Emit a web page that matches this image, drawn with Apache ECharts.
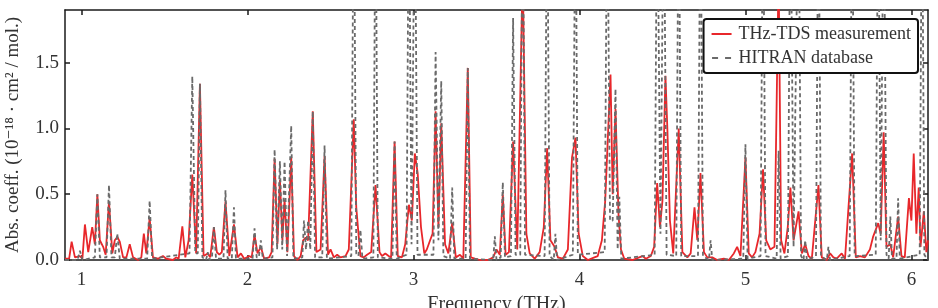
<!DOCTYPE html>
<html>
<head>
<meta charset="utf-8">
<script src="https://cdn.jsdelivr.net/npm/echarts@6/dist/echarts.min.js"></script>
<style>
  html, body { margin: 0; padding: 0; background: #fff; }
  #chart { width: 938px; height: 308px; }
</style>
</head>
<body>
<div id="chart"></div>
<script>
// THz-TDS measurement: [frequency (THz), abs. coeff.]
const measurement = [
  [0.90,0.01],[0.925,0.01],[0.94,0.14],[0.96,0.02],[0.99,0.03],[1.005,0.01],
  [1.02,0.27],[1.04,0.06],[1.064,0.25],[1.08,0.12],[1.095,0.50],[1.11,0.15],
  [1.13,0.10],[1.145,0.04],[1.165,0.445],[1.185,0.05],[1.20,0.15],[1.215,0.175],
  [1.23,0.14],[1.25,0.02],[1.27,0.02],[1.29,0.12],[1.31,0.02],[1.34,0.0],
  [1.36,0.02],[1.375,0.20],[1.39,0.05],[1.41,0.32],[1.43,0.02],[1.46,0.01],
  [1.49,0.03],[1.51,0.01],[1.55,0.0],[1.57,0.02],[1.585,0.01],[1.607,0.255],
  [1.625,0.02],[1.645,0.15],[1.667,0.65],[1.69,0.05],[1.713,1.34],[1.735,0.03],
  [1.76,0.05],[1.775,0.02],[1.797,0.25],[1.815,0.06],[1.83,0.04],[1.845,0.06],
  [1.867,0.445],[1.89,0.03],[1.918,0.27],[1.94,0.02],[1.96,0.05],[1.98,0.01],
  [2.01,0.03],[2.025,0.02],[2.042,0.19],[2.06,0.05],[2.08,0.10],[2.10,0.01],
  [2.13,0.02],[2.145,0.06],[2.163,0.77],[2.18,0.12],[2.195,0.61],[2.21,0.15],
  [2.223,0.46],[2.24,0.06],[2.263,0.78],[2.28,0.03],[2.30,0.0],[2.32,0.03],
  [2.335,0.15],[2.35,0.17],[2.365,0.15],[2.393,1.13],[2.415,0.06],[2.44,0.08],
  [2.464,0.79],[2.485,0.04],[2.50,0.08],[2.52,0.02],[2.54,0.04],[2.56,0.02],
  [2.59,0.03],[2.61,0.08],[2.64,1.07],[2.655,0.40],[2.665,0.25],[2.68,0.03],
  [2.70,0.02],[2.72,0.04],[2.745,0.06],[2.771,0.57],[2.795,0.06],[2.81,0.03],
  [2.83,0.05],[2.85,0.03],[2.865,0.02],[2.886,0.90],[2.905,0.03],[2.93,0.02],
  [2.95,0.12],[2.972,0.42],[2.99,0.30],[3.008,0.81],[3.025,0.66],[3.045,0.25],
  [3.065,0.05],[3.08,0.08],[3.10,0.15],[3.115,0.20],[3.133,1.13],[3.15,0.25],
  [3.167,1.04],[3.19,0.12],[3.21,0.05],[3.233,0.28],[3.255,0.02],[3.28,0.04],
  [3.30,0.01],[3.327,1.46],[3.345,0.02],[3.37,0.01],[3.40,0.0],[3.45,0.0],
  [3.48,0.02],[3.50,0.08],[3.52,0.04],[3.538,0.50],[3.555,0.04],[3.575,0.06],
  [3.60,0.90],[3.625,0.08],[3.658,2.20],[3.68,0.20],[3.70,0.05],[3.73,0.01],
  [3.76,0.06],[3.785,0.25],[3.805,0.85],[3.825,0.15],[3.85,0.10],[3.87,0.02],
  [3.90,0.01],[3.93,0.08],[3.955,0.78],[3.976,0.93],[3.995,0.20],[4.02,0.03],
  [4.05,0.0],[4.09,0.02],[4.11,0.03],[4.135,0.15],[4.155,0.45],[4.187,1.41],
  [4.20,0.50],[4.217,1.15],[4.235,0.35],[4.25,0.08],[4.27,0.01],[4.32,0.0],
  [4.36,0.02],[4.38,0.03],[4.40,0.01],[4.43,0.03],[4.45,0.10],[4.468,0.585],
  [4.485,0.25],[4.50,0.45],[4.518,1.40],[4.53,0.98],[4.545,0.30],[4.565,0.05],
  [4.598,1.00],[4.62,0.06],[4.65,0.02],[4.67,0.05],[4.693,0.40],[4.71,0.15],
  [4.729,0.66],[4.75,0.06],[4.77,0.02],[4.80,0.02],[4.83,0.0],[4.87,0.01],
  [4.90,0.0],[4.93,0.05],[4.95,0.10],[4.97,0.03],[5.00,0.78],[5.02,0.05],
  [5.04,0.02],[5.06,0.06],[5.085,0.20],[5.106,0.69],[5.125,0.15],[5.15,0.08],
  [5.175,0.10],[5.20,2.20],[5.215,0.15],[5.235,0.05],[5.255,0.25],[5.271,0.55],
  [5.29,0.15],[5.32,0.37],[5.34,0.05],[5.36,0.12],[5.38,0.03],[5.40,0.01],
  [5.44,0.57],[5.46,0.02],[5.49,0.0],[5.51,0.05],[5.53,0.02],[5.55,0.01],
  [5.58,0.05],[5.60,0.01],[5.643,0.81],[5.665,0.02],[5.69,0.03],[5.72,0.02],
  [5.75,0.08],[5.77,0.18],[5.80,0.28],[5.815,0.20],[5.833,0.97],[5.85,0.10],
  [5.873,0.12],[5.89,0.02],[5.92,0.33],[5.94,0.03],[5.96,0.02],[5.985,0.47],
  [6.00,0.30],[6.014,0.81],[6.03,0.20],[6.044,0.55],[6.055,0.10],[6.075,0.37],
  [6.09,0.06],[6.10,0.15]
];

// HITRAN database lines: [frequency (THz), abs. coeff.]
const hitran = [
  [0.90,0.0],
  [0.975,0.0],[0.99,0.07],[1.005,0.0],
  [1.08,0.02],[1.095,0.50],[1.11,0.02],
  [1.15,0.02],[1.165,0.57],[1.18,0.02],
  [1.20,0.02],[1.215,0.20],[1.23,0.01],
  [1.395,0.01],[1.41,0.45],[1.425,0.01],
  [1.65,0.05],[1.667,1.395],[1.685,0.05],
  [1.70,0.05],[1.713,1.34],[1.728,0.02],
  [1.75,0.0],[1.76,0.06],[1.77,0.0],
  [1.785,0.01],[1.797,0.25],[1.81,0.01],
  [1.855,0.01],[1.867,0.53],[1.88,0.01],
  [1.905,0.01],[1.918,0.40],[1.93,0.01],
  [2.03,0.01],[2.042,0.24],[2.055,0.02],
  [2.068,0.02],[2.08,0.15],[2.092,0.01],
  [2.15,0.02],[2.163,0.84],[2.178,0.08],
  [2.195,0.75],[2.209,0.08],
  [2.223,0.75],[2.238,0.03],
  [2.25,0.03],[2.263,1.02],[2.276,0.01],
  [2.33,0.02],[2.34,0.30],[2.352,0.08],
  [2.365,0.30],[2.378,0.08],
  [2.393,1.13],[2.407,0.02],
  [2.45,0.02],[2.464,0.87],[2.478,0.01],
  [2.625,0.03],[2.64,3.0],[2.655,0.05],
  [2.668,0.03],[2.68,0.23],[2.692,0.01],
  [2.758,0.02],[2.771,3.0],[2.785,0.02],
  [2.873,0.01],[2.886,0.90],[2.899,0.01],
  [2.958,0.04],[2.972,3.0],[2.988,0.12],
  [3.008,3.0],[3.024,0.04],
  [3.12,0.04],[3.133,1.58],[3.15,0.15],
  [3.167,1.36],[3.18,0.03],
  [3.22,0.01],[3.233,0.55],[3.246,0.01],
  [3.314,0.01],[3.327,1.46],[3.34,0.01],
  [3.48,0.0],[3.49,0.18],[3.50,0.0],
  [3.525,0.02],[3.538,0.59],[3.551,0.02],
  [3.587,0.03],[3.60,1.84],[3.615,0.04],
  [3.643,0.04],[3.658,3.0],[3.672,0.04],
  [3.79,0.03],[3.805,3.0],[3.82,0.03],
  [3.845,0.0],[3.855,0.20],[3.865,0.0],
  [3.96,0.04],[3.976,3.0],[3.99,0.04],
  [4.152,0.06],[4.167,3.0],[4.184,0.30],[4.20,0.30],[4.217,1.30],[4.23,0.08],
  [4.24,0.48],[4.252,0.01],
  [4.453,0.04],[4.468,3.0],[4.488,0.20],[4.508,3.0],[4.525,0.04],
  [4.583,0.03],[4.598,3.0],[4.613,0.03],
  [4.714,0.03],[4.729,3.0],[4.744,0.03],
  [4.78,0.0],[4.79,0.15],[4.80,0.0],
  [4.987,0.01],[5.00,0.88],[5.013,0.01],
  [5.091,0.03],[5.106,3.0],[5.121,0.03],
  [5.188,0.01],[5.20,0.83],[5.212,0.01],
  [5.256,0.03],[5.271,3.0],[5.29,0.10],[5.32,3.0],[5.335,0.03],
  [5.35,0.0],[5.36,0.15],[5.37,0.0],
  [5.425,0.03],[5.44,3.0],[5.455,0.03],
  [5.49,0.0],[5.50,0.10],[5.51,0.0],
  [5.628,0.03],[5.643,3.0],[5.658,0.03],
  [5.785,0.04],[5.80,3.0],[5.815,0.15],[5.833,3.0],[5.85,0.04],
  [5.863,0.01],[5.873,0.33],[5.883,0.01],
  [5.91,0.01],[5.92,0.47],[5.93,0.01],
  [6.05,0.04],[6.064,3.0],[6.078,0.04],
  [6.10,0.0]
];

const xTicks = [1, 2, 3, 4, 5, 6];
const yTicks = [0, 0.5, 1.0, 1.5];

const font = '"Liberation Serif", "DejaVu Serif", serif';
const frame = { color: '#1a1a1a', width: 1.5 };
const red = '#e8272b';
const gray = '#6a6a6a';

const chart = echarts.init(document.getElementById('chart'));

const option = {
  animation: false,
  backgroundColor: '#fff',
  grid: { left: 65, right: 10, top: 10, bottom: 48, outerBoundsMode: 'none' },
  legend: {
    data: [
      { name: 'THz-TDS measurement', icon: 'path://M0,0H20V2H0Z' },
      { name: 'HITRAN database', icon: 'path://M0,0H6V2H0ZM13,0H19V2H13Z' }
    ],
    orient: 'vertical',
    right: 20,
    top: 19,
    itemWidth: 20,
    itemHeight: 2,
    itemGap: 6,
    padding: [6, 7, 6, 8],
    borderColor: '#111',
    borderWidth: 2,
    borderRadius: 3,
    backgroundColor: '#fff',
    textStyle: { fontFamily: font, fontSize: 18, color: '#333', padding: [0, 0, 0, 2] }
  },
  xAxis: [
    {
      type: 'value', min: 0.9, max: 6.1, position: 'bottom',
      name: 'Frequency (THz)', nameLocation: 'middle', nameGap: 34,
      nameTextStyle: { fontFamily: font, fontSize: 20, color: '#333' },
      axisLine: { show: true, onZero: false, lineStyle: frame },
      axisTick: { show: true, inside: true, length: 5, customValues: xTicks, lineStyle: frame },
      axisLabel: { customValues: xTicks, fontFamily: font, fontSize: 19, color: '#333', margin: 11 },
      splitLine: { show: false }
    },
    {
      type: 'value', min: 0.9, max: 6.1, position: 'top',
      axisLine: { show: true, onZero: false, lineStyle: frame },
      axisTick: { show: true, inside: true, length: 5, customValues: xTicks, lineStyle: frame },
      axisLabel: { show: false },
      splitLine: { show: false }
    }
  ],
  yAxis: [
    {
      type: 'value', min: 0, max: 1.9, position: 'left',
      name: 'Abs. coeff. (10\u207B\u00B9\u2078 \u00B7 cm\u00B2 / mol.)',
      nameLocation: 'middle', nameGap: 42,
      nameTextStyle: { fontFamily: font, fontSize: 19, color: '#333' },
      axisLine: { show: true, onZero: false, lineStyle: frame },
      axisTick: { show: true, inside: true, length: 5, customValues: yTicks, lineStyle: frame },
      axisLabel: {
        customValues: yTicks, fontFamily: font, fontSize: 19, color: '#333', margin: 6,
        formatter: v => v.toFixed(1)
      },
      splitLine: { show: false }
    },
    {
      type: 'value', min: 0, max: 1.9, position: 'right',
      axisLine: { show: true, onZero: false, lineStyle: frame },
      axisTick: { show: true, inside: true, length: 5, customValues: yTicks, lineStyle: frame },
      axisLabel: { show: false },
      splitLine: { show: false }
    }
  ],
  series: [
    {
      name: 'THz-TDS measurement',
      type: 'line',
      xAxisIndex: 0, yAxisIndex: 0,
      data: measurement,
      symbol: 'none',
      z: 2,
      lineStyle: { color: red, width: 1.8 },
      itemStyle: { color: red }
    },
    {
      name: 'HITRAN database',
      type: 'line',
      xAxisIndex: 0, yAxisIndex: 0,
      data: hitran,
      symbol: 'none',
      z: 3,
      lineStyle: { color: gray, width: 1.8, type: [4, 3] },
      itemStyle: { color: gray }
    }
  ]
};

chart.setOption(option);
</script>
</body>
</html>
